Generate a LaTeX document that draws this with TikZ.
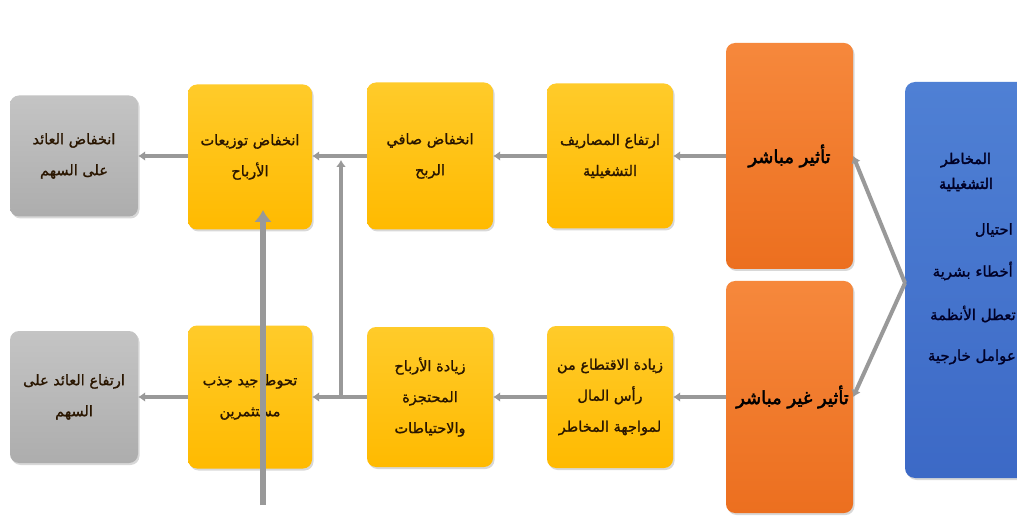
\documentclass[tikz,border=0pt]{standalone}
\usepackage{fontspec}
\newfontfamily\arabicfont[Script=Arabic,FakeBold=1.2]{DejaVu Sans}
\newfontfamily\arabicbold[Script=Arabic,FakeBold=2.6]{DejaVu Sans}
\TeXXeTstate=1
\usetikzlibrary{arrows.meta,shadows}
\newcommand{\artxt}[1]{\beginR #1\endR}
\definecolor{yeltop}{HTML}{FFCB2A}
\definecolor{yelbot}{HTML}{FFBA00}
\definecolor{orgtop}{HTML}{F6883C}
\definecolor{orgbot}{HTML}{EC6F1F}
\definecolor{grytop}{HTML}{C4C4C4}
\definecolor{grybot}{HTML}{ADADAD}
\definecolor{blutop}{HTML}{4F80D4}
\definecolor{blubot}{HTML}{3C69C6}
\definecolor{conncol}{HTML}{999999}
\definecolor{txtdark}{HTML}{2A1600}
\begin{document}
\begin{tikzpicture}[x=1pt,y=-1pt,
  box/.style={draw=none, rounded corners=9pt, inner sep=2pt, align=center,
    text=txtdark, font=\arabicfont\fontsize{14.5}{31}\selectfont,
    drop shadow={opacity=0.3, shadow xshift=1.5pt, shadow yshift=-2pt}},
  yelbox/.style={box, top color=yeltop, bottom color=yelbot, minimum width=126pt},
  grybox/.style={box, top color=grytop, bottom color=grybot, minimum width=128pt},
  orgbox/.style={box, top color=orgtop, bottom color=orgbot, minimum width=127pt,
    font=\arabicbold\fontsize{18}{22}\selectfont, text=black},
  blubox/.style={box, top color=blutop, bottom color=blubot, minimum width=130pt,
    minimum height=396pt, rounded corners=10pt},
  bluetext/.style={font=\arabicfont\fontsize{15}{18}\selectfont, text=black!85!blue, inner sep=0pt},
  conn/.style={draw=conncol, line width=4pt, -{Latex[length=7pt,width=10pt]}},
  bigconn/.style={draw=conncol, line width=6pt, -{Latex[length=12pt,width=18pt]}}
]
\useasboundingbox (0,0) rectangle (1017,521);
\clip (0,0) rectangle (1017,521);
\fill[white] (0,0) rectangle (1017,521);

% blue box (cut by the right edge)
\node[blubox] (blue) at (970,280) {};
\node[bluetext, font=\arabicbold\fontsize{14.5}{25}\selectfont, align=center] (bh) at (966,172)
  {\artxt{المخاطر}\\\artxt{التشغيلية}};
\node[bluetext, anchor=east] (b1) at (1013,230) {\artxt{احتيال}};
\node[bluetext, anchor=east] (b2) at (1013,271) {\artxt{أخطاء بشرية}};
\node[bluetext, anchor=east] (b3) at (1016,314) {\artxt{تعطل الأنظمة}};
\node[bluetext, anchor=east] (b4) at (1016,357) {\artxt{عوامل خارجية}};

% orange boxes
\node[orgbox, minimum height=226pt] (o1) at (789.5,156) {\artxt{تأثير مباشر}};
\node[orgbox, minimum height=232pt] (o2) at (789.5,397) {\hspace*{6pt}\artxt{تأثير غير مباشر}};

% top row
\node[yelbox, minimum height=145pt] (y1t) at (610,156) {\artxt{ارتفاع المصاريف}\\\artxt{التشغيلية}};
\node[yelbox, minimum height=147pt] (y2t) at (430,156) {\artxt{انخفاض صافي}\\\artxt{الربح}};
\node[yelbox, minimum height=145pt, minimum width=124pt] (y3t) at (250,157) {\artxt{انخفاض توزيعات}\\\artxt{الأرباح}};
\node[grybox, minimum height=121pt] (g1) at (74,156) {\artxt{انخفاض العائد}\\\artxt{على السهم}};

% bottom row
\node[yelbox, minimum height=142pt] (y1b) at (610,397) {\artxt{زيادة الاقتطاع من}\\\artxt{رأس المال}\\\artxt{لمواجهة المخاطر}};
\node[yelbox, minimum height=140pt] (y2b) at (430,397) {\artxt{زيادة الأرباح}\\\artxt{المحتجزة}\\\artxt{والاحتياطات}};
\node[yelbox, minimum height=143pt, minimum width=124pt] (y3b) at (250,397) {\artxt{تحوط جيد جذب}\\\artxt{مستثمرين}};
\node[grybox, minimum height=132pt] (g2) at (74,397) {\artxt{ارتفاع العائد على}\\\artxt{السهم}};

% connectors top row
\draw[conn] (o1.west) -- (y1t.east);
\draw[conn] (y1t.west) -- (y2t.east);
\draw[conn] (y2t.west) -- (y3t.east |- y2t.west);
\draw[conn] (y3t.west |- g1.east) -- (g1.east);

% connectors bottom row
\draw[conn] (o2.west) -- (y1b.east);
\draw[conn] (y1b.west) -- (y2b.east);
\draw[conn] (y2b.west) -- (y3b.east);
\draw[conn] (y3b.west) -- (g2.east);

% vertical link between the rows
\coordinate (j1) at (341,397);
\coordinate (j2) at (341,160);
\draw[conn, line cap=butt] (j1) -- (j2);

% chevron from the blue box to the orange boxes
\coordinate (apex) at (905,283);
\draw[conn] (apex) -- (o1.east);
\draw[conn] (apex) -- (o2.east);

% long vertical arrow
\coordinate (s) at (263,505);
\coordinate (t) at (263,210);
\draw[bigconn] (s) -- (t);
\end{tikzpicture}
\end{document}
